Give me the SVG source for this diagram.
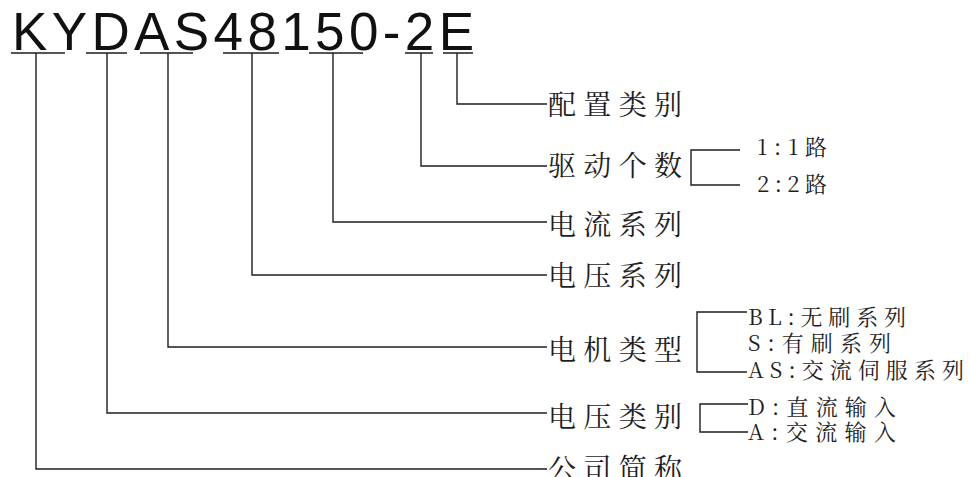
<svg xmlns="http://www.w3.org/2000/svg" width="970" height="477" viewBox="0 0 970 477">
<style>
.ln{fill:none;stroke:#1e1e1e;stroke-width:1.4}
.t{font-family:"Noto Serif CJK SC","Noto Sans CJK SC",serif;fill:#1e1e1e}
.m{font-size:28px}
.s{font-size:22px}
.title{font-family:"Liberation Sans",Arial,sans-serif;font-size:53px;fill:#111}
</style>
<rect width="970" height="477" fill="#fff"/>
<g id="title"><text class="title" x="12" y="50" textLength="462" lengthAdjust="spacing">KYDAS48150-2E</text></g>
<g id="connectors">
<path class="ln" d="M11 53H65M86 53H127M140 53H193M223 53H279M309 53H363M405 53H433M443 53H473"/>
<path class="ln" d="M457 53V104H547"/>
<path class="ln" d="M421 53V166H547"/>
<path class="ln" d="M333 53V222H547"/>
<path class="ln" d="M252 53V275H547"/>
<path class="ln" d="M168 53V347H547"/>
<path class="ln" d="M107 53V413H547"/>
<path class="ln" d="M36 53V469H547"/>
<path class="ln" d="M740 150H691V185H740"/>
<path class="ln" d="M747 312H697V372H747"/>
<path class="ln" d="M748 404H700V432H748"/>
</g>
<g id="n-peizhi"><text class="t m" x="548" y="115" textLength="134" lengthAdjust="spacing">配置类别</text></g>
<g id="n-qudong"><text class="t m" x="548" y="176" textLength="134" lengthAdjust="spacing">驱动个数</text>
<text class="t s" x="757" y="155" textLength="70" lengthAdjust="spacing">1:1路</text>
<text class="t s" x="757" y="192" textLength="70" lengthAdjust="spacing">2:2路</text></g>
<g id="n-dianliu"><text class="t m" x="548" y="235" textLength="134" lengthAdjust="spacing">电流系列</text></g>
<g id="n-dianya"><text class="t m" x="548" y="286" textLength="134" lengthAdjust="spacing">电压系列</text></g>
<g id="n-dianji"><text class="t m" x="548" y="360" textLength="134" lengthAdjust="spacing">电机类型</text>
<text class="t s" x="748" y="325" textLength="158" lengthAdjust="spacing">BL:无刷系列</text>
<text class="t s" x="748" y="351" textLength="143" lengthAdjust="spacing">S:有刷系列</text>
<text class="t s" x="748" y="378" textLength="216" lengthAdjust="spacing">AS:交流伺服系列</text></g>
<g id="n-dianyaleibie"><text class="t m" x="548" y="427" textLength="134" lengthAdjust="spacing">电压类别</text>
<text class="t s" x="748" y="415" textLength="148" lengthAdjust="spacing">D:直流输入</text>
<text class="t s" x="748" y="440" textLength="148" lengthAdjust="spacing">A:交流输入</text></g>
<g id="n-gongsi"><text class="t m" x="548" y="479" textLength="134" lengthAdjust="spacing">公司简称</text></g>
</svg>
